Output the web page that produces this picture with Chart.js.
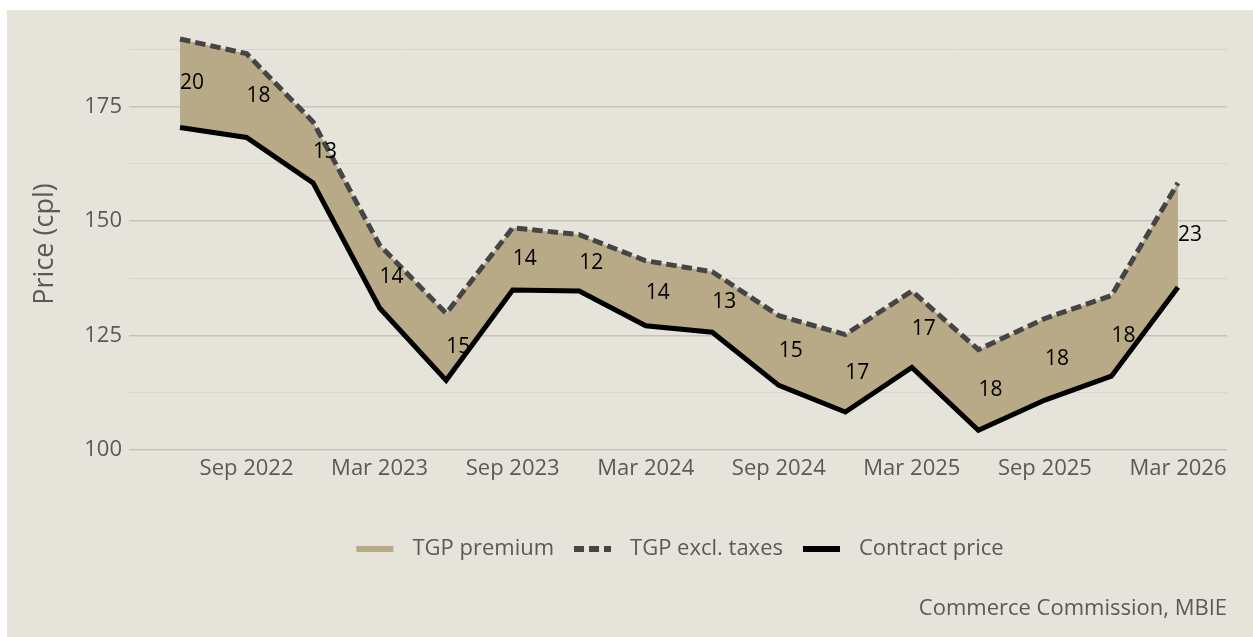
<!DOCTYPE html>
<html>
<head>
<meta charset="utf-8">
<script src="https://cdn.jsdelivr.net/npm/chart.js@4.4.1/dist/chart.umd.min.js"></script>
<style>
  html, body { margin: 0; padding: 0; background: #ffffff; }
  #wrap { position: relative; width: 1253px; height: 637px; overflow: hidden; }
  #panel { position: absolute; left: 7px; top: 10px; right: 0; bottom: 0; background: #e6e3db; }
  #priceChart { position: absolute; left: 0; top: 0; }
</style>
</head>
<body>
<div id="wrap">
  <div id="panel"></div>
  <canvas id="priceChart" width="1253" height="637"></canvas>
</div>
<script>
// Quarterly periods shown on the chart
const periods = [
    'Jun 2022', 'Sep 2022', 'Dec 2022', 'Mar 2023', 'Jun 2023', 'Sep 2023', 'Dec 2023', 'Mar 2024',
    'Jun 2024', 'Sep 2024', 'Dec 2024', 'Mar 2025', 'Jun 2025', 'Sep 2025', 'Dec 2025', 'Mar 2026'
];
const tickLabels = ['Sep 2022', 'Mar 2023', 'Sep 2023', 'Mar 2024', 'Sep 2024', 'Mar 2025', 'Sep 2025', 'Mar 2026'];

// Prices in cents per litre
const tgpExclTaxes = [189.7, 186.5, 171.6, 144.7, 129.8, 148.5, 147.0, 141.3, 138.9, 129.3, 125.2, 134.7, 121.9, 128.7, 133.7, 158.3];
const contractPrice = [170.4, 168.2, 158.3, 131.0, 115.2, 134.9, 134.7, 127.1, 125.7, 114.1, 108.3, 118.0, 104.3, 110.9, 116.1, 135.5];
const premiumLabels = [20, 18, 13, 14, 15, 14, 12, 14, 13, 15, 17, 17, 18, 18, 18, 23];

const legendNames = ['TGP premium', 'TGP excl. taxes', 'Contract price'];
const sourceNote = 'Commerce Commission, MBIE';
const axisTitle = 'Price (cpl)';

const premiumColor = '#b8aa86';
const tgpColor = '#454545';
const contractColor = '#000000';
const textColor = '#595959';
const fontFamily = '"Open Sans", sans-serif';

document.addEventListener('DOMContentLoaded', function() {
    const ctx = document.getElementById('priceChart');

    // Labels, legend, axis title and source note
    const overlayPlugin = {
        id: 'overlay',
        afterDatasetsDraw(chart) {
            const c = chart.ctx;
            const x = chart.scales.x;
            const y = chart.scales.y;
            c.save();
            c.font = '21px ' + fontFamily;
            c.fillStyle = '#000000';
            c.textAlign = 'left';
            c.textBaseline = 'middle';
            premiumLabels.forEach(function(v, i) {
                const px = x.getPixelForValue(i);
                const py = (y.getPixelForValue(tgpExclTaxes[i]) + y.getPixelForValue(contractPrice[i])) / 2;
                c.fillText(String(v), px, py);
            });
            c.restore();
        },
        afterDraw(chart) {
            const c = chart.ctx;
            const area = chart.chartArea;
            c.save();

            // y axis title
            c.font = '27px ' + fontFamily;
            c.fillStyle = textColor;
            c.textAlign = 'center';
            c.textBaseline = 'middle';
            c.translate(45, 244);
            c.rotate(-Math.PI / 2);
            c.fillText(axisTitle, 0, 0);
            c.setTransform(1, 0, 0, 1, 0, 0);

            // legend
            const items = [
                { text: legendNames[0], color: premiumColor, dash: [] },
                { text: legendNames[1], color: tgpColor, dash: [10, 5] },
                { text: legendNames[2], color: contractColor, dash: [] }
            ];
            c.font = '22px ' + fontFamily;
            const swatch = 37, gapText = 19, gapItem = 20;
            let total = 0;
            items.forEach(function(it, i) {
                it.w = c.measureText(it.text).width;
                total += swatch + gapText + it.w + (i > 0 ? gapItem : 0);
            });
            let lx = (area.left + area.right) / 2 + 2 - total / 2;
            const ly = 549;
            items.forEach(function(it) {
                c.beginPath();
                c.lineWidth = 6;
                c.lineCap = 'butt';
                c.strokeStyle = it.color;
                c.setLineDash(it.dash);
                c.moveTo(lx, ly);
                c.lineTo(lx + swatch, ly);
                c.stroke();
                c.setLineDash([]);
                c.fillStyle = textColor;
                c.textAlign = 'left';
                c.textBaseline = 'middle';
                c.fillText(it.text, lx + swatch + gapText, ly);
                lx += swatch + gapText + it.w + gapItem;
            });

            // source note
            c.textAlign = 'right';
            c.fillText(sourceNote, area.right, 609);
            c.restore();
        }
    };

    new Chart(ctx, {
        type: 'line',
        data: {
            datasets: [{
                label: legendNames[1],
                data: tgpExclTaxes.map(function(v, i) { return { x: i, y: v }; }),
                borderColor: tgpColor,
                borderWidth: 5,
                borderDash: [10.5, 5],
                backgroundColor: premiumColor,
                fill: '+1',
                pointRadius: 0,
                tension: 0,
                order: 1
            }, {
                label: legendNames[2],
                data: contractPrice.map(function(v, i) { return { x: i, y: v }; }),
                borderColor: contractColor,
                borderWidth: 5,
                fill: false,
                pointRadius: 0,
                tension: 0,
                order: 0
            }]
        },
        options: {
            responsive: false,
            animation: false,
            layout: {
                padding: { left: 0, top: 13, right: 26, bottom: 147 }
            },
            scales: {
                x: {
                    type: 'linear',
                    min: -0.767,
                    max: 15.737,
                    grid: { display: false },
                    border: { display: false },
                    afterBuildTicks: function(scale) {
                        scale.ticks = tickLabels.map(function(t) { return { value: periods.indexOf(t) }; });
                    },
                    afterFit: function(scale) { scale.height = 40; },
                    ticks: {
                        autoSkip: false,
                        maxRotation: 0,
                        padding: -2,
                        color: textColor,
                        font: { family: fontFamily, size: 22 },
                        callback: function(value) { return periods[value]; }
                    }
                },
                y: {
                    min: 100,
                    max: 193.8,
                    grid: {
                        drawTicks: false,
                        color: function(c) {
                            return c.tick && c.tick.value % 25 === 0 ? '#c6c3bb' : '#d8d5cd';
                        },
                        lineWidth: function(c) {
                            return c.tick && c.tick.value % 25 === 0 ? 1.5 : 1;
                        }
                    },
                    border: { display: false },
                    afterFit: function(scale) { scale.width = 129; },
                    ticks: {
                        stepSize: 12.5,
                        includeBounds: false,
                        padding: 7,
                        color: textColor,
                        font: { family: fontFamily, size: 22 },
                        callback: function(value) { return value % 25 === 0 ? value : ''; }
                    }
                }
            },
            plugins: {
                legend: { display: false },
                title: { display: false },
                tooltip: { enabled: false }
            }
        },
        plugins: [overlayPlugin]
    });
});
</script>
</body>
</html>
